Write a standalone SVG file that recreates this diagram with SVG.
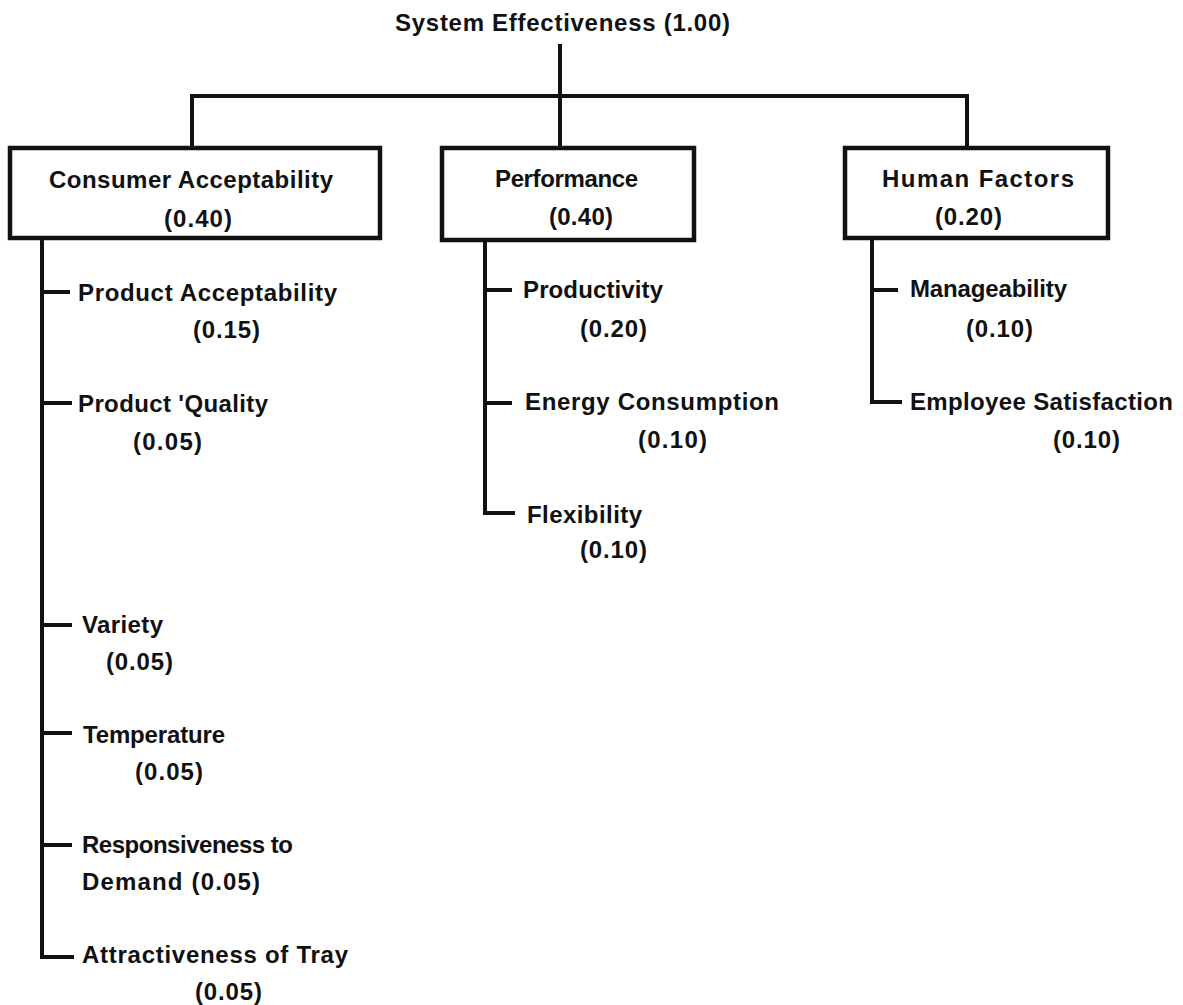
<svg xmlns="http://www.w3.org/2000/svg" width="1183" height="1005" viewBox="0 0 1183 1005">
<style>
text{font-family:"Liberation Sans",Arial,sans-serif;font-weight:bold;font-size:24px;fill:#111}
.box{fill:#fff;stroke:#111;stroke-width:4.5}
.ln{stroke:#111;stroke-width:4;fill:none;stroke-linecap:square}
.tk{stroke:#111;stroke-width:4;fill:none}
</style>
<rect width="1183" height="1005" fill="#fff"/>
<g id="connectors">
<path class="ln" d="M560 46 V148"/>
<path class="ln" d="M192 148 V96 H967 V148"/>
<path class="ln" d="M42 240 V957 H72"/>
<path class="tk" d="M42 292 H70 M42 403 H72 M42 625 H72 M42 733 H72 M42 845 H72"/>
<path class="ln" d="M485 242 V513 H513"/>
<path class="tk" d="M485 290 H512 M485 403 H512"/>
<path class="ln" d="M872 240 V402 H900"/>
<path class="tk" d="M872 290 H898"/>
</g>
<g id="root"><text x="395" y="31" textLength="335" lengthAdjust="spacing">System Effectiveness (1.00)</text></g>
<g id="consumer">
<rect class="box" x="10" y="148" width="370" height="90"/>
<text x="49" y="188" textLength="284" lengthAdjust="spacing">Consumer Acceptability</text>
<text x="164" y="227" textLength="68" lengthAdjust="spacing">(0.40)</text>
</g>
<g id="performance">
<rect class="box" x="442" y="148" width="252" height="92"/>
<text x="495" y="187" textLength="143" lengthAdjust="spacing">Performance</text>
<text x="549" y="225" textLength="64" lengthAdjust="spacing">(0.40)</text>
</g>
<g id="human">
<rect class="box" x="845" y="148" width="263" height="90"/>
<text x="882" y="187" textLength="192" lengthAdjust="spacing">Human Factors</text>
<text x="935" y="225" textLength="67" lengthAdjust="spacing">(0.20)</text>
</g>
<g id="product-acceptability"><text x="78" y="301" textLength="259" lengthAdjust="spacing">Product Acceptability</text><text x="193" y="338" textLength="67" lengthAdjust="spacing">(0.15)</text></g>
<g id="product-quality"><text x="78" y="412" textLength="190" lengthAdjust="spacing">Product 'Quality</text><text x="133" y="450" textLength="69" lengthAdjust="spacing">(0.05)</text></g>
<g id="variety"><text x="82" y="633" textLength="81" lengthAdjust="spacing">Variety</text><text x="106" y="670" textLength="67" lengthAdjust="spacing">(0.05)</text></g>
<g id="temperature"><text x="83" y="743" textLength="142" lengthAdjust="spacing">Temperature</text><text x="135" y="780" textLength="68" lengthAdjust="spacing">(0.05)</text></g>
<g id="responsiveness"><text x="82" y="853" textLength="211" lengthAdjust="spacing">Responsiveness to</text><text x="82" y="890" textLength="178" lengthAdjust="spacing">Demand (0.05)</text></g>
<g id="attractiveness"><text x="82" y="963" textLength="266" lengthAdjust="spacing">Attractiveness of Tray</text><text x="195" y="1000" textLength="67" lengthAdjust="spacing">(0.05)</text></g>
<g id="productivity"><text x="523" y="298" textLength="140" lengthAdjust="spacing">Productivity</text><text x="580" y="337" textLength="67" lengthAdjust="spacing">(0.20)</text></g>
<g id="energy"><text x="525" y="410" textLength="254" lengthAdjust="spacing">Energy Consumption</text><text x="638" y="448" textLength="69" lengthAdjust="spacing">(0.10)</text></g>
<g id="flexibility"><text x="527" y="523" textLength="115" lengthAdjust="spacing">Flexibility</text><text x="580" y="558" textLength="67" lengthAdjust="spacing">(0.10)</text></g>
<g id="manageability"><text x="910" y="297" textLength="157" lengthAdjust="spacing">Manageability</text><text x="966" y="337" textLength="67" lengthAdjust="spacing">(0.10)</text></g>
<g id="employee"><text x="910" y="410" textLength="263" lengthAdjust="spacing">Employee Satisfaction</text><text x="1053" y="448" textLength="67" lengthAdjust="spacing">(0.10)</text></g>
</svg>
